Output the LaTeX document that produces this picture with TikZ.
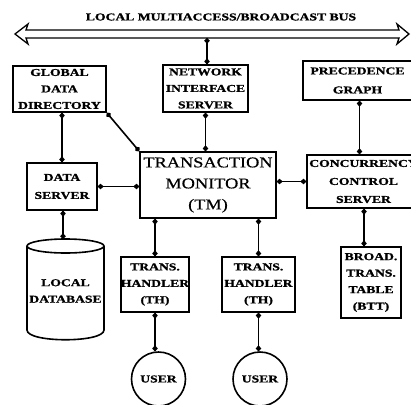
\documentclass[tikz,border=0pt]{standalone}
\usepackage{fontspec}
\newfontfamily\lblfont[FakeStretch=1.3, BoldFeatures={FakeBold=1.2}]{Liberation Serif}
\newfontfamily\tmfont[FakeStretch=1.22, FakeBold=0.6]{Liberation Serif}
\usetikzlibrary{arrows.meta}

\begin{document}
\begin{tikzpicture}[x=1pt,y=-1pt,
  lbl/.style={font={\lblfont\bfseries\fontsize{10.5}{16.5}\selectfont}, align=center, inner sep=0pt},
  box/.style={lbl, draw, line width=1.6pt},
  usr/.style={lbl, draw, circle, line width=1.6pt, minimum size=54pt},
  link/.style={line width=1.6pt, {Circle[length=5.5pt,width=5pt]}-{Circle[length=5.5pt,width=5pt]}}
]
\useasboundingbox (0,0) rectangle (411,404);

% broadcast bus: hollow double-headed arrow
\node[lbl] (bustitle) at (221,17) {LOCAL MULTIACCESS/BROADCAST BUS};
\draw[line width=1.3pt, line join=miter]
  (15,34) -- (28,24) -- (26,30) -- (399,30) -- (397,24) -- (409,34)
  -- (397,44) -- (399,38) -- (26,38) -- (28,44) -- cycle;
\coordinate (busport) at (207,38);

% boxes
\node[box, minimum width=93pt, minimum height=46pt] (gdd) at (59.5,89) {GLOBAL\\DATA\\DIRECTORY};
\node[box, minimum width=85pt, minimum height=47pt] (nis) at (205.5,88.5) {NETWORK\\INTERFACE\\SERVER};
\node[box, minimum width=109pt, minimum height=39pt] (pg) at (357.5,80.5) {PRECEDENCE\\[2.5pt]GRAPH};
\node[box, minimum width=70pt, minimum height=47pt] (ds) at (62,186.5) {DATA\\[1.5pt]SERVER};
\node[box, minimum width=136pt, minimum height=66pt,
      font={\tmfont\fontsize{15}{21}\selectfont}] (tm) at (208,185) {TRANSACTION\\MONITOR\\(TM)};
\node[box, minimum width=113pt, minimum height=53pt] (ccs) at (363.5,181.5) {CONCURRENCY\\[1.5pt]CONTROL\\[1.5pt]SERVER};
\node[box, minimum width=68pt, minimum height=55pt] (th1) at (155,284.5) {TRANS.\\HANDLER\\(TH)};
\node[box, minimum width=73pt, minimum height=55pt] (th2) at (258.5,284.5) {TRANS.\\HANDLER\\(TH)};
\node[box, minimum width=60pt, minimum height=71pt] (btt) at (371,282.5) {BROAD.\\TRANS.\\TABLE\\(BTT)};

% local database cylinder
\draw[line width=1.6pt] (27,246) -- (27,330)
  .. controls (27,343) and (104,343) .. (104,330) -- (104,246);
\draw[line width=1.6pt] (65.5,246) ellipse [x radius=38.5, y radius=7];
\coordinate (dbtop) at (63,239);
\node[lbl] (db) at (65.5,291) {LOCAL\\DATABASE};

% users
\node[usr] (u1) at (158.5,379) {USER};
\node[usr] (u2) at (260,379) {USER};

% connectors
\draw[link] (busport) -- (busport |- nis.north);
\draw[link] (ds.north |- gdd.south) -- (ds.north);
\draw[link] (gdd.south east) -- (tm.north west);
\draw[link] (nis.south) -- (nis.south |- tm.north);
\draw[link] ([xshift=2pt]pg.south) -- ([xshift=2pt]pg.south |- ccs.north);
\draw[link] (ds.east) -- (ds.east -| tm.west);
\draw[link] (tm.east |- ccs.west) -- (ccs.west);
\draw[link] (dbtop |- ds.south) -- (dbtop);
\draw[link] (th1.north |- tm.south) -- (th1.north);
\draw[link] (th2.north |- tm.south) -- (th2.north);
\draw[link] ([xshift=-7pt]btt.north |- ccs.south) -- ([xshift=-7pt]btt.north);
\draw[link] (th1.south) -- (th1.south |- u1.north);
\draw[link] (th2.south) -- (th2.south |- u2.north);
\end{tikzpicture}
\end{document}
